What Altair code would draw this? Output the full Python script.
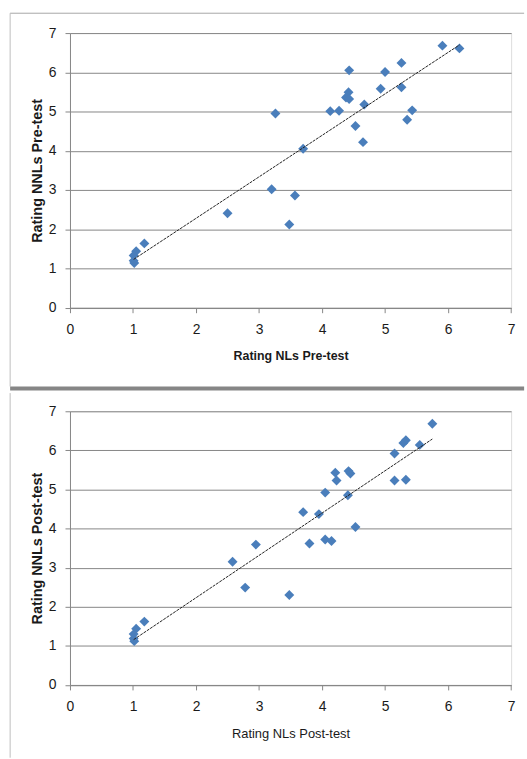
import altair as alt
import pandas as pd

# ---- data ----
pre_x = [5.91, 6.18, 5.26, 4.43, 5.00, 5.26, 4.93, 4.42, 4.38, 4.43, 4.67, 4.13, 4.27, 5.43, 3.26, 5.35, 4.53, 4.65, 3.70, 3.20, 3.57, 2.50, 3.48, 1.18, 1.05, 1.01, 1.01, 1.02]
pre_y = [6.68, 6.61, 6.24, 6.05, 6.01, 5.62, 5.58, 5.49, 5.36, 5.32, 5.18, 5.01, 5.02, 5.03, 4.95, 4.79, 4.63, 4.22, 4.05, 3.02, 2.86, 2.41, 2.12, 1.64, 1.44, 1.33, 1.20, 1.14]

post_x = [5.75, 5.33, 5.29, 5.55, 5.15, 4.21, 4.42, 4.45, 4.23, 5.15, 5.33, 4.05, 4.41, 3.70, 3.95, 4.53, 3.80, 4.05, 4.15, 2.95, 2.58, 2.78, 3.48, 1.18, 1.05, 1.01, 1.01, 1.02]
post_y = [6.68, 6.26, 6.19, 6.14, 5.92, 5.43, 5.47, 5.41, 5.23, 5.23, 5.25, 4.92, 4.85, 4.42, 4.37, 4.04, 3.62, 3.72, 3.68, 3.59, 3.15, 2.49, 2.30, 1.62, 1.44, 1.30, 1.19, 1.12]

tick_values = [0, 1, 2, 3, 4, 5, 6, 7]

FONT = "Liberation Sans"
GRID = "#868686"
BLUE = "#4A7EBB"
W = 444.4


def panel(xs, ys, xtitle, ytitle, xbold, h, top_part):
    df = pd.DataFrame({"x": xs, "y": ys})
    xs_ = alt.Scale(domain=[0, 7], nice=False, zero=False)
    ys_ = alt.Scale(domain=[0, 7], nice=False, zero=False)
    xaxis = alt.Axis(values=tick_values, format="d", labelOverlap=False, grid=False,
                     domainColor=GRID, tickColor=GRID,
                     tickSize=5, labelFontSize=14, labelFont=FONT, labelColor="#1a1a1a",
                     labelBaseline="middle", labelPadding=17, labelFlush=False,
                     title=xtitle, titleFont=FONT, titleFontSize=12.5 if xbold else 13,
                     titleFontWeight="bold" if xbold else "normal", titleColor="#1a1a1a",
                     titleX=W / 2, titleY=48.5, titleBaseline="middle", titleAlign="center")
    yaxis = alt.Axis(values=tick_values, format="d", labelOverlap=False, grid=True,
                     gridColor=GRID, domainColor=GRID,
                     tickColor=GRID, tickSize=5, labelFontSize=14, labelFont=FONT,
                     labelColor="#1a1a1a", labelPadding=9, labelFlush=False,
                     title=ytitle, titleFont=FONT, titleFontSize=14.5, titleFontWeight="bold",
                     titleColor="#1a1a1a", titleX=-33, titleY=h / 2, titleAngle=270,
                     titleBaseline="middle", titleAlign="center")
    X = alt.X("x:Q", scale=xs_, axis=xaxis)
    Y = alt.Y("y:Q", scale=ys_, axis=yaxis)
    base = alt.Chart(df)
    pts = base.mark_point(shape="diamond", filled=True, size=100, color=BLUE, opacity=1).encode(
        x=X, y=Y)
    trend = base.transform_regression("x", "y").mark_line(
        color="#222222", strokeWidth=1, strokeDash=[3, 1]
    ).encode(x=X, y=Y)

    one = alt.Chart(pd.DataFrame({"a": [0]}))
    layers = [pts, trend]
    if top_part:
        layers.append(one.mark_rule(color="#a6a6a6", strokeWidth=1).encode(
            x=alt.value(-60.3), x2=alt.value(457.5), y=alt.value(-20)))
        layers.append(one.mark_rule(color="#bdbdbd", strokeWidth=1).encode(
            x=alt.value(-60.3), y=alt.value(-20), y2=alt.value(356)))
        layers.append(one.mark_rule(color="#868686", strokeWidth=4).encode(
            x=alt.value(-60.3), x2=alt.value(457.5), y=alt.value(358)))
    else:
        layers.append(one.mark_rule(color="#bdbdbd", strokeWidth=1).encode(
            x=alt.value(-60.3), y=alt.value(-18.3), y2=alt.value(349)))
    return alt.layer(*layers).properties(width=W, height=h)


top = panel(pre_x, pre_y, "Rating NLs Pre-test", "Rating NNLs Pre-test", True, 276.7, True)
bottom = panel(post_x, post_y, "Rating NLs Post-test", "Rating NNLs Post-test", False, 275.7, False)

chart = alt.vconcat(top, bottom, spacing=0).properties(
    padding={"left": 7.5, "top": 9.5, "right": 0, "bottom": 0}
).configure_view(stroke=None).configure(background="white")

chart.save("out.html", embed_options={"renderer": "svg", "actions": False})
